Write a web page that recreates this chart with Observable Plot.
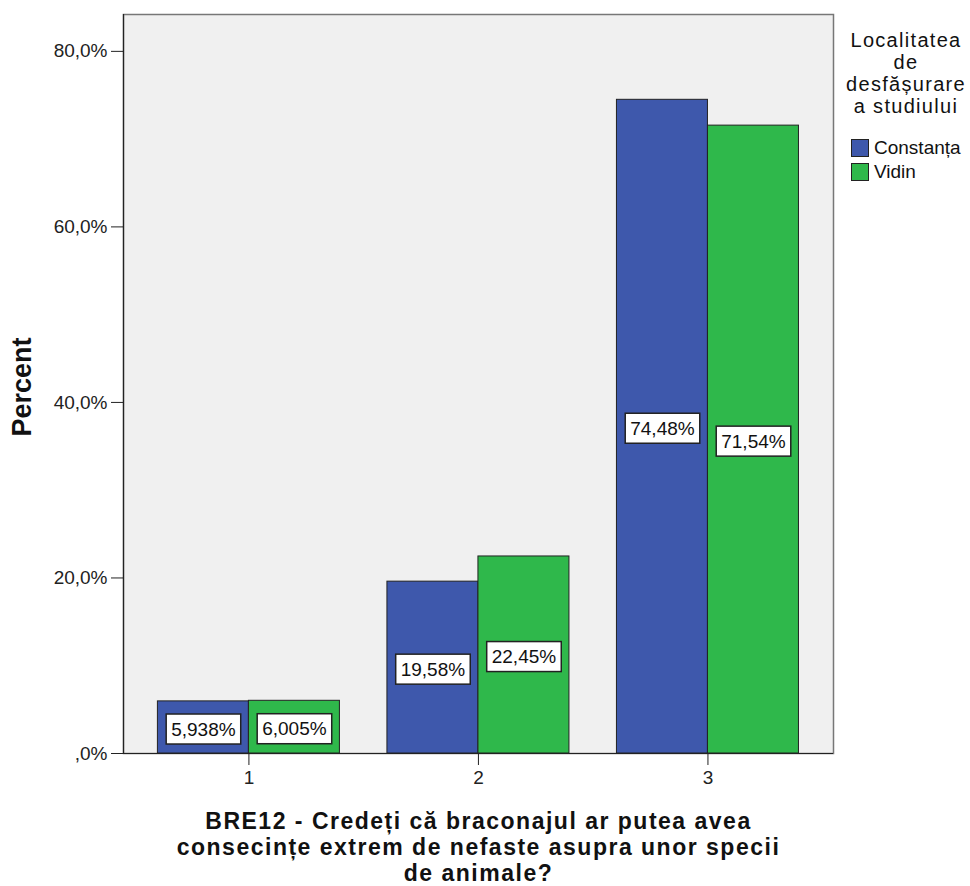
<!DOCTYPE html>
<html>
<head>
<meta charset="utf-8">
<script src="https://cdn.jsdelivr.net/npm/d3@7"></script>
<script src="https://cdn.jsdelivr.net/npm/@observablehq/plot@0.6"></script>
<style>
  html, body { margin: 0; padding: 0; background: white; }
  #wrap { position: relative; width: 970px; height: 886px; font-family: 'Liberation Sans', Arial, sans-serif; color: #111; }
  #legend { position: absolute; left: 836px; top: 29px; width: 140px; }
  #legend .title { text-align: center; font-size: 20px; line-height: 22px; letter-spacing: 1.3px; }
  #legend .item { position: relative; height: 24px; font-size: 19px; line-height: 24px; padding-left: 38px; }
  #legend .sw { position: absolute; left: 15px; top: 3px; width: 16px; height: 16px; border: 1px solid #222; }
</style>
</head>
<body>
<div id="wrap"><div id="chart"></div><div id="legend"></div></div>
<script>
// ---- data ----
const categories = [1, 2, 3];
const seriesNames = ["Constanța", "Vidin"];
const constanta = [5.938, 19.58, 74.48];
const vidin = [6.005, 22.45, 71.54];
const yTicks = [0, 20, 40, 60, 80];
const legendTitle = ["Localitatea", "de", "desfășurare", "a studiului"];
const yLabel = "Percent";
const xTitle = "BRE12 - Credeți că braconajul ar putea avea\nconsecințe extrem de nefaste asupra unor specii\nde animale?";
const colors = ["#3e58ac", "#2fb84b"];

const rows = categories.flatMap((c, i) => [
  {cat: c, series: seriesNames[0], value: constanta[i]},
  {cat: c, series: seriesNames[1], value: vidin[i]}
]);

const xDomain = [0.4536, 3.547];
const bw = 0.3965; // bar width in category units
const left = d => d.series === seriesNames[0] ? d.cat - bw : d.cat;
const right = d => d.series === seriesNames[0] ? d.cat : d.cat + bw;
const fmtVal = d => d3.format(".4")(d).replace(".", ",") + "%";
const fmtTick = d => (d === 0 ? "" : d3.format("d")(d)) + ",0%";

const plot = Plot.plot({
  width: 970, height: 886,
  marginLeft: 123, marginRight: 137, marginTop: 14, marginBottom: 133,
  style: {fontFamily: "'Liberation Sans', Arial, sans-serif", fontSize: "19px", color: "#222", background: "white"},
  x: {domain: xDomain},
  y: {domain: [0, 84.2]},
  color: {domain: seriesNames, range: colors},
  marks: [
    Plot.frame({fill: "#f0f0f0", stroke: "#777", strokeWidth: 1.5}),
    Plot.rect(rows, {x1: left, x2: right, y1: () => 0, y2: "value", fill: "series", stroke: "#222", strokeWidth: 1}),
    Plot.ruleY([0], {stroke: "#222", strokeWidth: 1.2}),
    Plot.ruleX([xDomain[0]], {stroke: "#222", strokeWidth: 1.2}),
    Plot.axisY({ticks: yTicks, tickFormat: fmtTick, tickSize: 12, tickPadding: 4, label: null, fill: "#222"}),
    Plot.axisX({ticks: categories, tickFormat: d => String(d), tickSize: 12, tickPadding: 5, label: null, fill: "#222"}),
    Plot.text(rows, {x: d => (left(d) + right(d)) / 2, y: d => d.value / 2, text: d => fmtVal(d.value), fill: "#111", dy: 2}),
    Plot.text([yLabel], {frameAnchor: "left", textAnchor: "middle", dx: -101, dy: 3, rotate: -90, fontSize: 27, fontWeight: "bold", fill: "#111"}),
    Plot.text([xTitle], {frameAnchor: "bottom", textAnchor: "middle", dy: 57, lineAnchor: "top", fontSize: 23, fontWeight: "bold", lineHeight: 1.13, fill: "#111"})
  ]
});
document.getElementById("chart").append(plot);

// white boxes behind bar value labels; letter spacing of the x title
d3.select(plot).selectAll("g[aria-label='text']").each(function() {
  const texts = d3.select(this).selectAll("text").nodes();
  if (texts.length === 1 && /BRE12/.test(texts[0].textContent)) {
    texts[0].style.letterSpacing = "1.5px";
    return;
  }
  if (!texts.length || !texts.every(t => /%$/.test(t.textContent))) return;
  texts.forEach(t => {
    const b = t.getBBox();
    const r = document.createElementNS("http://www.w3.org/2000/svg", "rect");
    const cy = b.y + b.height / 2;
    r.setAttribute("x", b.x - 5);
    r.setAttribute("width", b.width + 10);
    r.setAttribute("y", cy - 15);
    r.setAttribute("height", 30);
    r.setAttribute("fill", "white");
    r.setAttribute("stroke", "#222");
    r.setAttribute("stroke-width", 1.5);
    if (t.getAttribute("transform")) r.setAttribute("transform", t.getAttribute("transform"));
    t.parentNode.insertBefore(r, t);
  });
});

// legend
const cs = plot.scale("color");
const lg = document.getElementById("legend");
const title = document.createElement("div");
title.className = "title";
title.innerHTML = legendTitle.join("<br>");
lg.append(title);
const gap = document.createElement("div"); gap.style.height = "19px"; lg.append(gap);
cs.domain.forEach((name, i) => {
  const it = document.createElement("div");
  it.className = "item";
  const sw = document.createElement("span");
  sw.className = "sw";
  sw.style.background = cs.range[i];
  it.append(sw, document.createTextNode(name));
  lg.append(it);
});
</script>
</body>
</html>
